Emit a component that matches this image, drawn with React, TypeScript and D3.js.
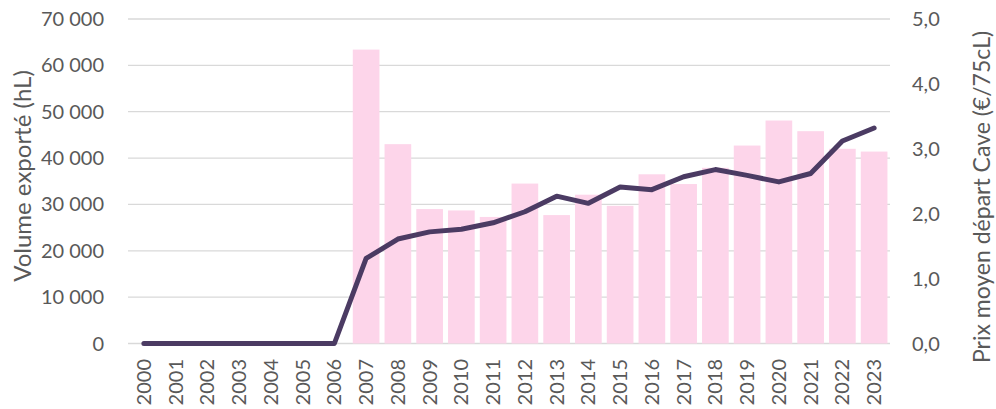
import React from "react";
import * as d3 from "d3";

const years = ["2000","2001","2002","2003","2004","2005","2006","2007","2008","2009","2010","2011","2012","2013","2014","2015","2016","2017","2018","2019","2020","2021","2022","2023"];
const volumes = [0,0,0,0,0,0,0,63400,43000,29000,28700,27300,34500,27700,32100,29700,36500,34400,37900,42700,48100,45800,42000,41400];
const prices = [0,0,0,0,0,0,0,1.31,1.61,1.72,1.76,1.86,2.03,2.27,2.16,2.41,2.37,2.57,2.68,2.59,2.49,2.62,3.12,3.32];
const leftTicks = [0,10000,20000,30000,40000,50000,60000,70000];
const rightTicks = [0,1,2,3,4,5];

const W = 996, H = 409;
const left = 128, right = 890, top = 19, bottom = 343.5;
const font = "Lato, 'Open Sans', sans-serif";
const textColor = "#595959";

export default function App() {
  const x = d3.scaleBand<string>().domain(years).range([left, right]).paddingInner(0.16).paddingOuter(0.08);
  const xc = (y: string) => (x(y) as number) + x.bandwidth() / 2;
  const yL = d3.scaleLinear().domain([0, 70000]).range([bottom, top]);
  const yR = d3.scaleLinear().domain([0, 5]).range([bottom, top]);
  const fmt = (v: number) => d3.format(",")(v).replace(/,/g, " ");
  const line = d3.line<number>().x((_, i) => xc(years[i])).y((d) => yR(d));

  return (
    <svg width={W} height={H} style={{ position: "absolute", left: 0, top: 0, background: "#fff" }} fontFamily={font}>
      {leftTicks.map((t) => (
        <line key={"g" + t} x1={left} x2={right} y1={yL(t)} y2={yL(t)} stroke="#d9d9d9" strokeWidth={1.3} />
      ))}
      {years.map((y, i) =>
        volumes[i] > 0 ? (
          <rect key={y} x={x(y)} y={yL(volumes[i])} width={x.bandwidth()} height={yL(0) - yL(volumes[i])} fill="#fdd5ea" />
        ) : null
      )}
      <path d={line(prices) || ""} fill="none" stroke="#4b3b63" strokeWidth={5} strokeLinejoin="round" strokeLinecap="round" />
      {leftTicks.map((t) => (
        <text key={"l" + t} x={104} y={yL(t)} dy="0.35em" textAnchor="end" fontSize={20} fill={textColor}>{fmt(t)}</text>
      ))}
      {rightTicks.map((t) => (
        <text key={"r" + t} x={912} y={yR(t)} dy="0.35em" textAnchor="start" fontSize={20} fill={textColor}>{d3.format(".1f")(t).replace(".", ",")}</text>
      ))}
      {years.map((y) => (
        <text key={"x" + y} transform={`translate(${xc(y)},${359}) rotate(-90)`} dy="0.35em" textAnchor="end" fontSize={20} fill={textColor}>{y}</text>
      ))}
      <text transform={`translate(23,176) rotate(-90)`} dy="0.35em" textAnchor="middle" fontSize={24} fill={textColor}>Volume exporté (hL)</text>
      <text transform={`translate(982,197) rotate(-90)`} dy="0.35em" textAnchor="middle" fontSize={23} fill={textColor}>Prix moyen départ Cave (€/75cL)</text>
    </svg>
  );
}
